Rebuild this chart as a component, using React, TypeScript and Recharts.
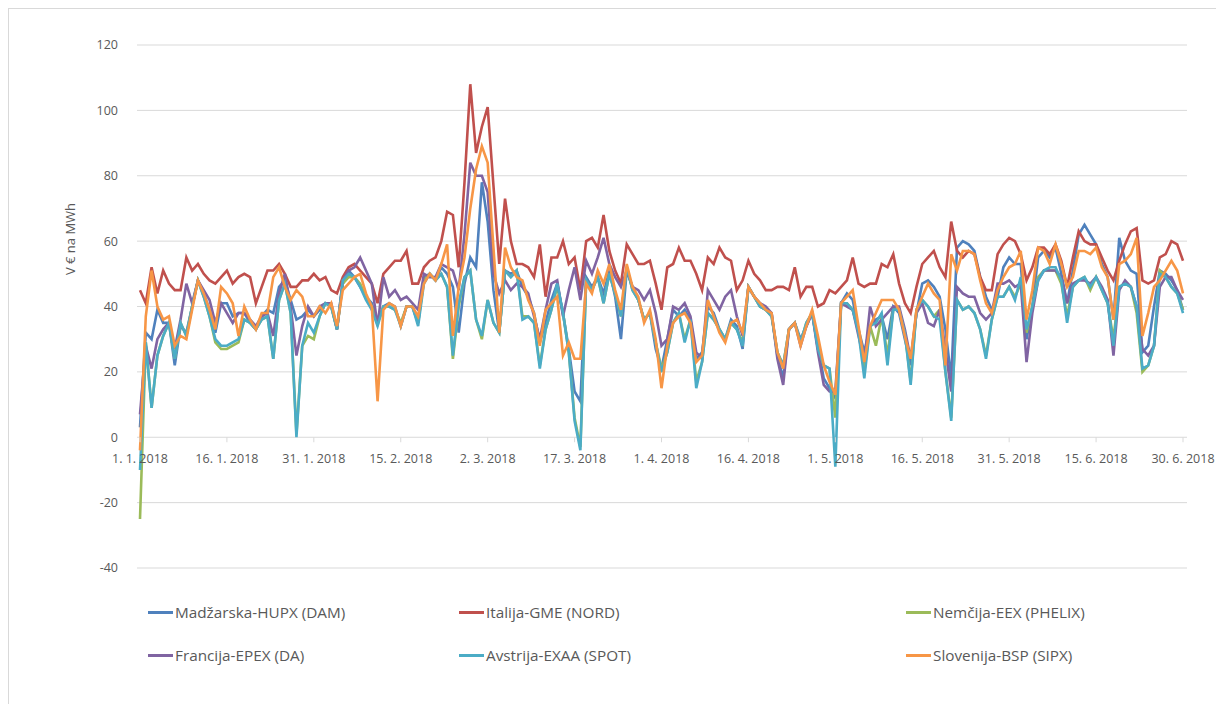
import { LineChart, Line, XAxis, YAxis, CartesianGrid, Legend } from "recharts"

// daily prices, 1. 1. 2018 – 30. 6. 2018 (EUR/MWh)
const hungary = [
  3, 32, 30, 39, 35, 35, 22, 34, 32, 40,
  48, 44, 39, 32, 41, 41, 37, 38, 38, 35,
  33, 37, 39, 38, 46, 48, 42, 36, 37, 39,
  37, 39, 41, 40, 33, 47, 51, 49, 46, 43,
  41, 35, 40, 41, 40, 34, 40, 40, 35, 49,
  50, 48, 52, 50, 46, 32, 47, 55, 52, 78,
  66, 45, 32, 51, 50, 51, 46, 43, 38, 29,
  35, 42, 47, 38, 27, 14, 11, 49, 46, 49,
  44, 51, 43, 30, 51, 46, 42, 36, 38, 27,
  21, 30, 39, 37, 39, 36, 24, 26, 40, 38,
  33, 30, 36, 34, 27, 46, 43, 40, 39, 38,
  25, 18, 33, 35, 30, 34, 38, 28, 18, 15,
  12, 41, 44, 42, 33, 26, 34, 36, 37, 30,
  40, 38, 30, 22, 38, 47, 48, 46, 43, 33,
  18, 58, 60, 59, 57, 49, 43, 39, 43, 52,
  55, 53, 53, 30, 40, 55, 57, 55, 58, 50,
  41, 51, 62, 65, 62, 59, 53, 49, 36, 61,
  54, 51, 50, 26, 28, 40, 51, 50, 48, 45, 39,
]

const italy = [
  45, 41, 52, 44, 51, 47, 45, 45, 55, 51,
  53, 50, 48, 47, 49, 51, 47, 49, 50, 49,
  41, 46, 51, 51, 53, 50, 46, 46, 48, 48,
  50, 48, 49, 45, 44, 49, 52, 53, 51, 49,
  47, 41, 50, 52, 54, 54, 57, 47, 47, 52,
  54, 55, 60, 69, 68, 52, 78, 108, 87, 95,
  101, 77, 53, 73, 60, 53, 53, 52, 49, 59,
  43, 55, 55, 60, 53, 55, 45, 60, 61, 58,
  68, 57, 51, 47, 59, 56, 53, 53, 54, 47,
  39, 52, 53, 58, 54, 54, 50, 45, 55, 53,
  58, 55, 54, 45, 48, 54, 50, 48, 45, 45,
  46, 46, 45, 52, 43, 46, 46, 40, 41, 45,
  44, 46, 48, 55, 47, 46, 47, 47, 53, 52,
  56, 47, 41, 38, 46, 53, 55, 57, 52, 49,
  66, 57, 55, 57, 56, 49, 45, 45, 56, 59,
  61, 60, 56, 48, 52, 58, 58, 56, 59, 54,
  46, 55, 63, 60, 59, 59, 55, 51, 48, 54,
  59, 63, 64, 48, 47, 48, 55, 56, 60, 59, 54,
]

const germany = [
  -25, 29, 9, 25, 31, 35, 24, 35, 31, 40,
  48, 43, 37, 29, 27, 27, 28, 29, 36, 35,
  33, 36, 37, 24, 42, 47, 38, 1, 28, 31,
  30, 37, 41, 40, 33, 47, 49, 49, 47, 43,
  40, 35, 40, 40, 39, 35, 40, 40, 35, 48,
  50, 48, 50, 46, 24, 40, 49, 51, 36, 30,
  42, 35, 32, 51, 49, 51, 37, 37, 35, 22,
  33, 39, 46, 38, 26, 6, -3, 48, 45, 49,
  41, 50, 44, 37, 52, 45, 42, 36, 38, 29,
  21, 26, 35, 38, 30, 36, 17, 23, 38, 36,
  33, 30, 35, 33, 29, 46, 43, 40, 39, 37,
  26, 22, 33, 35, 29, 35, 38, 27, 22, 21,
  6, 41, 41, 39, 33, 20, 34, 28, 37, 25,
  39, 39, 32, 17, 39, 42, 40, 37, 39, 20,
  6, 42, 39, 40, 38, 33, 25, 36, 43, 43,
  46, 43, 47, 32, 40, 49, 51, 51, 51, 47,
  37, 46, 48, 49, 45, 49, 45, 41, 30, 46,
  47, 46, 38, 20, 22, 28, 51, 49, 46, 44, 39,
]

const france = [
  7, 28, 21, 30, 33, 35, 27, 36, 47, 41,
  48, 45, 42, 35, 41, 38, 35, 38, 38, 36,
  34, 37, 38, 31, 44, 50, 40, 25, 34, 40,
  37, 40, 41, 41, 33, 48, 51, 52, 55, 51,
  47, 34, 49, 43, 45, 42, 43, 41, 39, 50,
  49, 49, 53, 52, 51, 45, 62, 84, 80, 80,
  75, 50, 44, 48, 45, 47, 46, 44, 37, 30,
  39, 47, 48, 37, 45, 52, 42, 54, 50, 55,
  61, 53, 49, 46, 51, 46, 45, 42, 45, 38,
  28, 30, 40, 39, 41, 37, 26, 24, 45, 42,
  39, 43, 45, 37, 31, 46, 43, 41, 40, 38,
  24, 16, 33, 35, 28, 34, 38, 26, 16, 14,
  14, 41, 40, 39, 31, 23, 40, 34, 36, 38,
  40, 40, 33, 24, 38, 41, 35, 34, 39, 27,
  14, 46, 44, 43, 43, 38, 36, 38, 47, 47,
  48, 46, 47, 23, 38, 48, 51, 51, 51, 49,
  41, 47, 48, 48, 47, 49, 46, 42, 25, 45,
  48, 46, 40, 27, 25, 28, 46, 49, 49, 45, 42,
]

const austria = [
  -10, 29, 9, 25, 31, 35, 24, 35, 31, 40,
  48, 43, 37, 30, 28, 28, 29, 30, 36, 35,
  33, 36, 37, 24, 42, 47, 38, 0, 28, 35,
  32, 37, 41, 40, 33, 48, 50, 49, 46, 42,
  39, 34, 40, 40, 39, 34, 40, 40, 34, 47,
  50, 48, 50, 46, 25, 41, 49, 51, 36, 31,
  42, 35, 32, 51, 49, 51, 36, 37, 35, 21,
  33, 39, 47, 38, 26, 5, -4, 48, 45, 49,
  41, 50, 44, 37, 52, 45, 42, 36, 38, 29,
  20, 26, 35, 38, 29, 36, 15, 23, 38, 36,
  33, 30, 35, 33, 28, 46, 43, 40, 39, 37,
  26, 22, 33, 35, 29, 35, 38, 27, 22, 21,
  -9, 41, 41, 39, 32, 18, 34, 35, 38, 22,
  39, 39, 32, 16, 39, 42, 40, 37, 36, 20,
  5, 42, 39, 40, 38, 33, 24, 36, 43, 43,
  46, 42, 49, 33, 40, 48, 51, 52, 52, 48,
  35, 46, 48, 49, 46, 49, 45, 41, 28, 46,
  47, 46, 40, 21, 22, 28, 50, 49, 46, 44, 38,
]

const slovenia = [
  -4, 37, 51, 40, 36, 37, 28, 31, 30, 39,
  48, 44, 39, 33, 46, 44, 41, 31, 40, 36,
  33, 38, 38, 49, 52, 46, 42, 45, 43, 37,
  37, 40, 38, 41, 34, 45, 47, 49, 50, 44,
  40, 11, 39, 41, 40, 34, 40, 40, 37, 47,
  50, 48, 53, 59, 31, 46, 55, 70, 82, 89,
  84, 58, 32, 58, 52, 49, 48, 42, 38, 28,
  39, 41, 43, 25, 29, 24, 24, 47, 44, 51,
  47, 53, 45, 39, 53, 46, 43, 35, 39, 30,
  15, 28, 35, 37, 38, 35, 23, 25, 42, 37,
  32, 29, 35, 36, 32, 46, 43, 41, 39, 38,
  26, 21, 33, 35, 28, 34, 39, 31, 22, 17,
  13, 41, 43, 45, 34, 23, 34, 38, 42, 42,
  42, 39, 31, 24, 39, 43, 47, 44, 42, 22,
  56, 51, 57, 57, 56, 48, 41, 38, 45, 49,
  52, 53, 57, 36, 45, 58, 57, 53, 59, 53,
  46, 49, 57, 57, 56, 58, 52, 49, 36, 53,
  54, 56, 61, 31, 38, 46, 48, 51, 54, 51, 44,
]

const xTicks = [
  "1. 1. 2018", "16. 1. 2018", "31. 1. 2018", "15. 2. 2018", "2. 3. 2018",
  "17. 3. 2018", "1. 4. 2018", "16. 4. 2018", "1. 5. 2018", "16. 5. 2018",
  "31. 5. 2018", "15. 6. 2018", "30. 6. 2018",
]
const yTicks = [-40, -20, 0, 20, 40, 60, 80, 100, 120]

const series = [
  { key: "hu", name: "Madžarska-HUPX (DAM)", color: "#4F81BD", values: hungary },
  { key: "it", name: "Italija-GME (NORD)", color: "#C0504D", values: italy },
  { key: "de", name: "Nemčija-EEX (PHELIX)", color: "#9BBB59", values: germany },
  { key: "fr", name: "Francija-EPEX (DA)", color: "#8064A2", values: france },
  { key: "at", name: "Avstrija-EXAA (SPOT)", color: "#4BACC6", values: austria },
  { key: "si", name: "Slovenija-BSP (SIPX)", color: "#F79646", values: slovenia },
]

const dates = hungary.map((_, i) => {
  const d = new Date(2018, 0, 1 + i)
  return `${d.getDate()}. ${d.getMonth() + 1}. ${d.getFullYear()}`
})

const data = dates.map((date, i) => {
  const row: Record<string, string | number> = { date }
  series.forEach((s) => (row[s.key] = s.values[i]))
  return row
})

const W = 1215
const H = 695
const TOP = 36
const PLOT_H = 523
const Y_MIN = -40
const Y_MAX = 120
// excel draws the category axis where y = 0
const ZERO_Y = TOP + (PLOT_H * Y_MAX) / (Y_MAX - Y_MIN)
const GREY = "#595959"

const XTick = ({ x, payload }: any) => (
  <g>
    <line x1={x} x2={x} y1={ZERO_Y} y2={ZERO_Y + 5} stroke="#d9d9d9" />
    <text x={x} y={ZERO_Y + 26} textAnchor="middle" fill={GREY} fontSize={12.5}>
      {payload.value}
    </text>
  </g>
)

const LegendGrid = () => (
  <div
    style={{
      display: "grid",
      gridTemplateColumns: "311px 447px 300px",
      rowGap: 21,
      paddingLeft: 139,
      fontSize: 15.3,
      color: GREY,
    }}
  >
    {series.map((s) => (
      <div key={s.key} style={{ display: "flex", alignItems: "center", height: 22 }}>
        <span style={{ display: "inline-block", width: 25, height: 3, background: s.color, marginRight: 2 }} />
        {s.name}
      </div>
    ))}
  </div>
)

export default function App() {
  return (
    <div
      style={{
        width: W,
        height: H,
        borderTop: "1px solid #d9d9d9",
        borderLeft: "1px solid #d9d9d9",
        fontFamily: "'Open Sans', sans-serif",
        background: "#fff",
      }}
    >
      <LineChart width={W} height={H} data={data} margin={{ top: TOP, right: 37, left: 0, bottom: 135 }}>
        <CartesianGrid vertical={false} stroke="#d9d9d9" />
        <XAxis
          dataKey="date"
          ticks={xTicks}
          interval={0}
          height={1}
          axisLine={false}
          tickLine={false}
          padding={{ left: 3, right: 4 }}
          tick={(props: any) => <XTick {...props} />}
        />
        <YAxis
          width={128}
          domain={[Y_MIN, Y_MAX]}
          ticks={yTicks}
          interval={0}
          axisLine={false}
          tickLine={false}
          tickMargin={13}
          tick={{ fill: GREY, fontSize: 12.5 }}
          label={{
            content: () => (
              <text x={66} y={230} transform="rotate(-90 66 230)" textAnchor="middle" fill={GREY} fontSize={13}>
                V € na MWh
              </text>
            ),
          }}
        />
        <Legend
          layout="horizontal"
          verticalAlign="middle"
          align="center"
          wrapperStyle={{ left: 0, top: 592, width: W }}
          content={() => <LegendGrid />}
        />
        {series.map((s) => (
          <Line
            key={s.key}
            type="linear"
            dataKey={s.key}
            name={s.name}
            stroke={s.color}
            strokeWidth={2.6}
            dot={false}
            activeDot={false}
            isAnimationActive={false}
          />
        ))}
      </LineChart>
    </div>
  )
}
